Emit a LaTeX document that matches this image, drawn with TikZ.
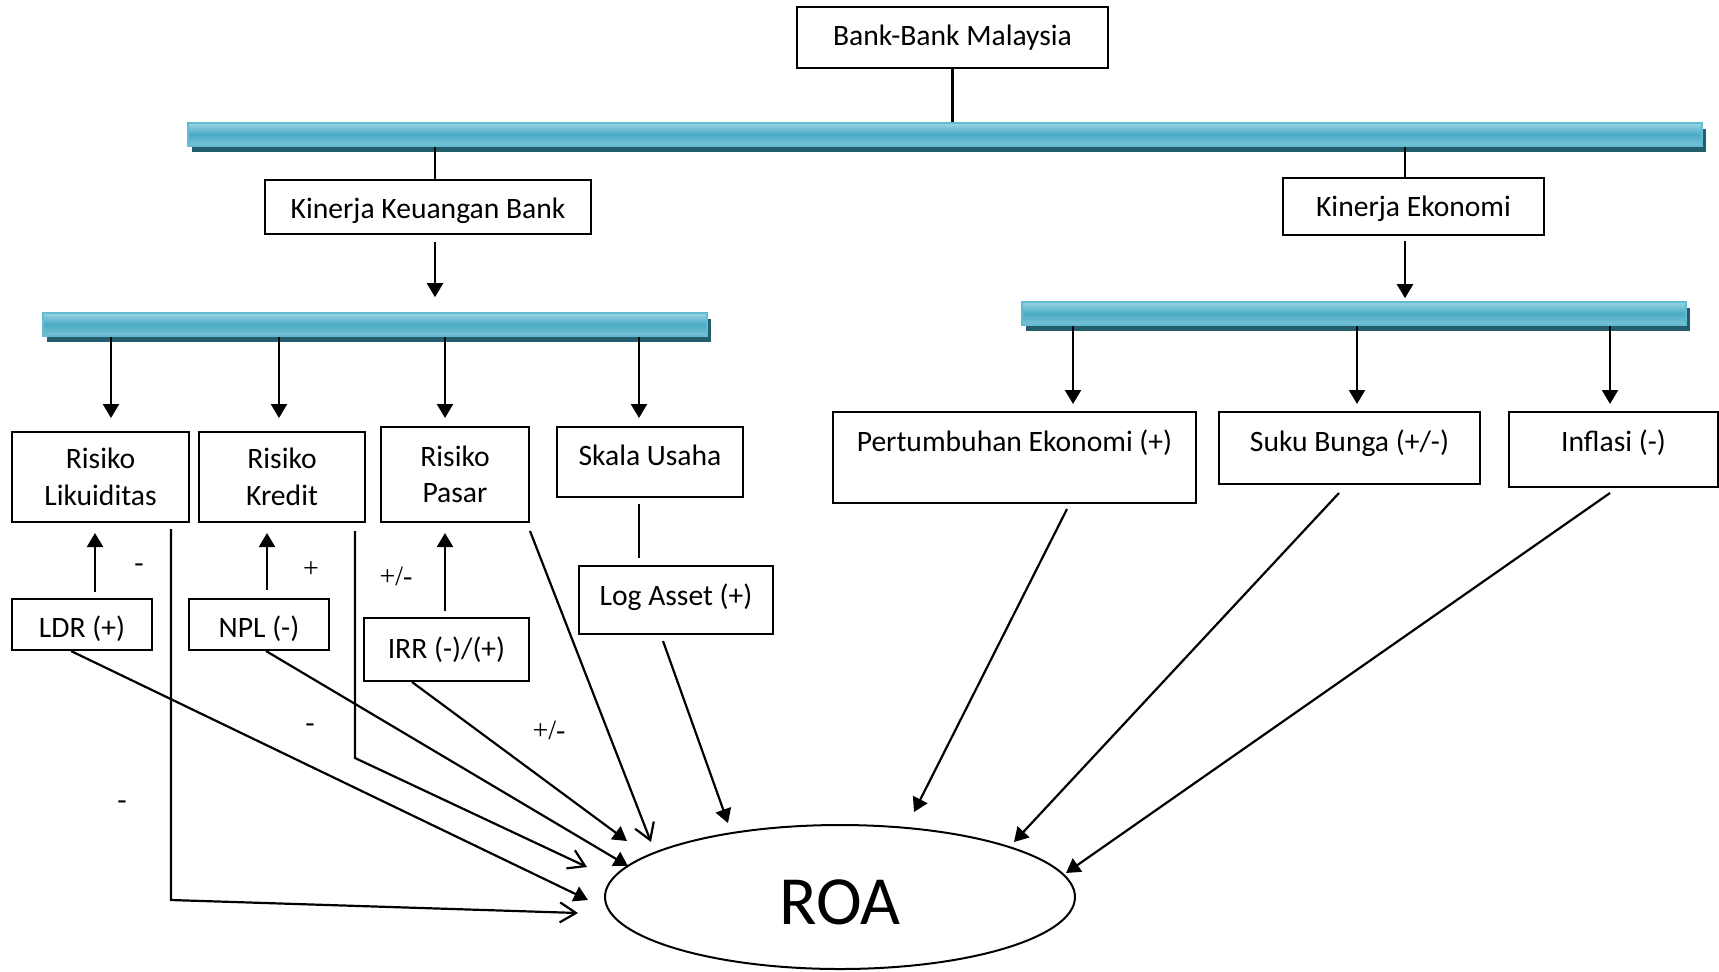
\documentclass[tikz,border=0pt]{standalone}
\usepackage{fontspec}
\setmainfont{Carlito}
\newfontfamily\lblfont{Liberation Serif}
\usetikzlibrary{arrows.meta,calc,shapes.geometric,shadows}
\newlength\upx \setlength\upx{0.5pt}
\definecolor{bartop}{HTML}{9AD4E4}
\definecolor{barmid}{HTML}{4AABC5}
\definecolor{barbot}{HTML}{7CC4D7}
\definecolor{barline}{HTML}{62BBD1}
\definecolor{barshadow}{HTML}{245E6C}
\begin{document}
\begin{tikzpicture}[x=0.5pt,y=-0.5pt,
  box/.style={draw, line width=1pt, inner sep=0pt, align=center, font=\fontsize{14.8}{18.2}\selectfont},
  bar/.style={draw=barline, line width=0.8pt, top color=bartop, bottom color=barbot, middle color=barmid, inner sep=0pt, minimum height=23\upx, general shadow={fill=barshadow, draw=none, shadow xshift=2pt, shadow yshift=-3pt}},
  ln/.style={line width=1.1pt},
  arr/.style={ln, -{Triangle[length=7pt,width=8pt]}},
  oarr/.style={ln, -{Straight Barb[length=8pt,width=10pt]}},
  lbl/.style={font=\lblfont\fontsize{14}{16}\selectfont, inner sep=0pt},
]
\useasboundingbox (0,0) rectangle (1719,971);

% boxes and bars
\node[box, minimum width=311\upx, minimum height=61\upx, text height=11pt, text depth=2.8pt] (bbm) at (952.5,37.5) {Bank-Bank Malaysia};
\node[bar, minimum width=1514\upx] (topbar) at (945,134.5) {};
\node[box, minimum width=326\upx, minimum height=54\upx, text height=13pt, text depth=1.1pt] (kkb) at (428,207) {Kinerja Keuangan Bank};
\node[box, minimum width=261\upx, minimum height=57\upx, text height=12pt, text depth=1.8pt] (ke) at (1413.5,206.5) {Kinerja Ekonomi};
\node[bar, minimum width=664\upx] (lbar) at (375,324.5) {};
\node[bar, minimum width=664\upx] (rbar) at (1354,313.5) {};

\node[box, minimum width=177\upx, minimum height=90\upx] (rl) at (100.5,477) {Risiko\\Likuiditas};
\node[box, minimum width=166\upx, minimum height=90\upx] (rk) at (282,477) {Risiko\\Kredit};
\node[box, minimum width=148\upx, minimum height=95\upx] (rp) at (455,474.5) {Risiko\\Pasar};
\node[box, minimum width=186\upx, minimum height=70\upx, text height=10pt, text depth=7pt] (su) at (650,462) {Skala Usaha};
\node[box, minimum width=140\upx, minimum height=51\upx, text height=14pt, text depth=0.8pt] (ldr) at (82,624.5) {LDR (+)};
\node[box, minimum width=140\upx, minimum height=51\upx, text height=14pt, text depth=0.8pt] (npl) at (259,624.5) {NPL (-)};
\node[box, minimum width=165\upx, minimum height=63\upx] (irr) at (446.5,649.5) {IRR (-)/(+)};
\node[box, minimum width=194\upx, minimum height=68\upx, text height=10pt, text depth=5pt] (la) at (676,600) {Log Asset (+)};

\node[box, minimum width=363\upx, minimum height=91\upx, text height=10pt, text depth=16.5pt] (pe) at (1014.5,457.5) {Pertumbuhan Ekonomi (+)};
\node[box, minimum width=261\upx, minimum height=72\upx, text height=10pt, text depth=7pt] (sb) at (1349.5,448) {Suku Bunga (+/-)};
\node[box, minimum width=209\upx, minimum height=75\upx, text height=10pt, text depth=8.5pt] (inf) at (1613.5,449.5) {Inflasi (-)};

\node[ellipse, draw, line width=1pt, inner sep=0pt, minimum width=470\upx, minimum height=144\upx, text height=27pt, text depth=0pt, font=\fontsize{34.5}{40}\selectfont] (roa) at (840,897) {ROA};

% top connectors
\draw[ln] (bbm.south) -- (bbm.south |- topbar.north);
\draw[ln] (topbar.south -| 435,0) -- (kkb.north -| 435,0);
\draw[ln] (topbar.south -| 1405,0) -- (ke.north -| 1405,0);
\draw[arr] ($(kkb.south -| 435,0)+(0,7)$) -- ($(lbar.north -| 435,0)+(0,-15)$);
\draw[arr] ($(ke.south -| 1405,0)+(0,5)$) -- ($(rbar.north -| 1405,0)+(0,-3)$);

% bar to boxes
\draw[arr] (lbar.south -| 111,0) -- ($(rl.north -| 111,0)+(0,-13)$);
\draw[arr] (lbar.south -| 279,0) -- ($(rk.north -| 279,0)+(0,-13)$);
\draw[arr] (lbar.south -| 445,0) -- ($(rp.north -| 445,0)+(0,-8)$);
\draw[arr] (lbar.south -| 639,0) -- ($(su.north -| 639,0)+(0,-8)$);
\draw[arr] (rbar.south -| 1073,0) -- ($(pe.north -| 1073,0)+(0,-7)$);
\draw[arr] (rbar.south -| 1357,0) -- ($(sb.north -| 1357,0)+(0,-7)$);
\draw[arr] (rbar.south -| 1610,0) -- ($(inf.north -| 1610,0)+(0,-7)$);

% indicators up to risks
\draw[arr] ($(ldr.north -| 95,0)+(0,-6)$) -- ($(rl.south -| 95,0)+(0,10)$);
\draw[arr] ($(npl.north -| 267,0)+(0,-8)$) -- ($(rk.south -| 267,0)+(0,10)$);
\draw[arr] ($(irr.north -| 445,0)+(0,-6)$) -- ($(rp.south -| 445,0)+(0,10)$);
\draw[ln] ($(su.south -| 639,0)+(0,6)$) -- ($(la.north -| 639,0)+(0,-7)$);

% coordinates near ROA
\coordinate (b1) at (171,900);
\coordinate (t1) at (578,913);
\coordinate (b2) at (355,758);
\coordinate (t2) at (587,867);
\coordinate (t3) at (651,842);
\coordinate (t4) at (588,900);
\coordinate (t5) at (628,866);
\coordinate (t6) at (627,841);
\coordinate (t7) at (728,823);
\coordinate (t8) at (914,812);
\coordinate (t9) at (1014,842);
\coordinate (t10) at (1066,873);

% to ROA
\draw[oarr] ($(rl.south -| 171,0)+(0,6)$) -- (b1) -- (t1);
\draw[oarr] ($(rk.south -| 355,0)+(0,8)$) -- (b2) -- (t2);
\draw[oarr] ($(rp.south east)+(0,8)$) -- (t3);
\draw[arr] (ldr.south -| 71,0) -- (t4);
\draw[arr] (npl.south -| 266,0) -- (t5);
\draw[arr] (irr.south -| 412,0) -- (t6);
\draw[arr] ($(la.south -| 663,0)+(0,6)$) -- (t7);
\draw[arr] ($(pe.south -| 1067,0)+(0,5)$) -- (t8);
\draw[arr] ($(sb.south -| 1339,0)+(0,8)$) -- (t9);
\draw[arr] ($(inf.south -| 1610,0)+(0,5)$) -- (t10);

% sign labels
\node[lbl] (s1) at (139,568) {-};
\node[lbl] (s2) at (311,570) {+};
\node[lbl] (s3) at (396,576) {+/-};
\node[lbl] (s4) at (310,728) {-};
\node[lbl] (s5) at (549,730) {+/-};
\node[lbl] (s6) at (122,805) {-};
\end{tikzpicture}
\end{document}
